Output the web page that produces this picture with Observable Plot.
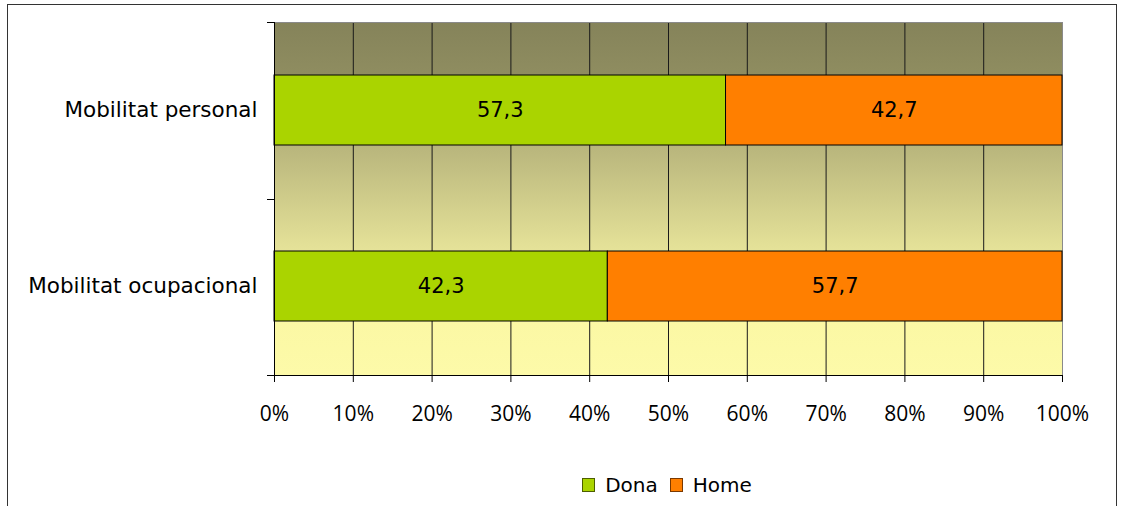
<!DOCTYPE html>
<html>
<head>
<meta charset="utf-8">
<script src="https://cdn.jsdelivr.net/npm/d3@7"></script>
<script src="https://cdn.jsdelivr.net/npm/@observablehq/plot@0.6"></script>
<style>
  html, body { margin: 0; padding: 0; background: #fff; overflow: hidden; }
  #wrap { position: relative; width: 1122px; height: 506px; overflow: hidden; font-family: "DejaVu Sans", sans-serif; }
  #border { position: absolute; left: 7px; top: 4px; width: 1110px; height: 560px; border: 1px solid #333; box-sizing: border-box; }
  #chart { position: absolute; left: 0; top: 0; }
  #legend { position: absolute; left: 0; width: 1122px; top: 472px; height: 26px; display: flex; justify-content: center; align-items: center; font-size: 20px; color: #000; padding-left: 212px; box-sizing: border-box; }
  .item { display: flex; align-items: center; margin: 0 6px; }
  .sw { width: 11px; height: 12px; border: 1px solid #444; margin-right: 10px; }
</style>
</head>
<body>
<div id="wrap">
  <div id="border"></div>
  <div id="chart"></div>
  <div id="legend"></div>
</div>
<script>
const categories = ["Mobilitat personal", "Mobilitat ocupacional"];
const series = ["Dona", "Home"];
const donaValues = [57.3, 42.3];
const homeValues = [42.7, 57.7];
const xTicks = [0, 10, 20, 30, 40, 50, 60, 70, 80, 90, 100];
const colors = ["#aad400", "#ff7f00"];
const swatchBorders = ["#4d5e00", "#7a3800"];

const data = categories.flatMap((c, i) => [
  {cat: c, serie: "Dona", value: donaValues[i]},
  {cat: c, serie: "Home", value: homeValues[i]}
]);

// Background gradient over the plot frame
function background(index, scales, values, dim) {
  const g = d3.create("svg:g");
  const defs = g.append("defs");
  const lg = defs.append("linearGradient").attr("id", "bggrad").attr("x1", 0).attr("y1", 0).attr("x2", 0).attr("y2", 1);
  [[0, "#85835a"], [0.15, "#8f8d60"], [0.35, "#b8b57c"], [0.65, "#e6e399"], [0.85, "#fbf8a4"], [1, "#fdfaa9"]]
    .forEach(([o, c]) => lg.append("stop").attr("offset", o).attr("stop-color", c));
  g.append("rect")
    .attr("x", dim.marginLeft).attr("y", dim.marginTop)
    .attr("width", dim.width - dim.marginLeft - dim.marginRight)
    .attr("height", dim.height - dim.marginTop - dim.marginBottom)
    .attr("fill", "url(#bggrad)");
  return g.node();
}

// Category-boundary ticks on the left (Excel style)
function boundaryTicks(index, scales, values, dim) {
  const g = d3.create("svg:g").attr("stroke", "#000");
  const top = dim.marginTop, bottom = dim.height - dim.marginBottom;
  const n = categories.length;
  for (let i = 0; i <= n; i++) {
    const y = Math.round(top + (bottom - top) * i / n) + 0.5;
    g.append("line").attr("x1", dim.marginLeft - 7).attr("x2", dim.marginLeft).attr("y1", y).attr("y2", y);
  }
  return g.node();
}

const chart = Plot.plot({
  width: 1122,
  height: 440,
  marginLeft: 274,
  marginRight: 60,
  marginTop: 22,
  marginBottom: 65,
  style: {fontFamily: "DejaVu Sans", fontSize: "21px", color: "#000", background: "transparent"},
  x: {domain: [0, 100], label: null},
  y: {domain: categories, paddingInner: 0.6, paddingOuter: 0.3, label: null},
  color: {domain: series, range: colors},
  marks: [
    background,
    Plot.ruleX(xTicks.slice(1, -1), {x: d => d, stroke: "#1a1a1a", strokeWidth: 1}),
    Plot.frame({stroke: "#8a8a8a"}),
    Plot.barX(data, Plot.stackX({x: "value", y: "cat", fill: "serie", stroke: "#000", strokeWidth: 1})),
    Plot.text(data, Plot.stackX({
      x: "value", y: "cat",
      text: d => d.value.toFixed(1).replace(".", ","),
      fill: "#000", fontSize: 21, fontFamily: "DejaVu Sans"
    })),
    Plot.ruleX([0], {stroke: "#000"}),
    Plot.axisX({
      ticks: xTicks, tickFormat: d => d + "%", tickSize: 7, tickPadding: 24, label: null,
      fontFamily: "Open Sans", fontSize: 21, stroke: "#000", fill: "#000"
    }),
    Plot.axisY({tickSize: 0, tickPadding: 17, label: null, fontFamily: "DejaVu Sans", fontSize: 21.5, fill: "#000"}),
    boundaryTicks,
    (index, scales, values, dim) => {
      const y = dim.height - dim.marginBottom + 0.5;
      return d3.create("svg:line")
        .attr("x1", dim.marginLeft).attr("x2", dim.width - dim.marginRight)
        .attr("y1", y).attr("y2", y).attr("stroke", "#000").node();
    }
  ]
});
document.getElementById("chart").appendChild(chart);

const legend = document.getElementById("legend");
series.forEach((s, i) => {
  const item = document.createElement("div");
  item.className = "item";
  const sw = document.createElement("div");
  sw.className = "sw";
  sw.style.background = colors[i];
  sw.style.borderColor = swatchBorders[i];
  const t = document.createElement("span");
  t.textContent = s;
  item.appendChild(sw);
  item.appendChild(t);
  legend.appendChild(item);
});
</script>
</body>
</html>
